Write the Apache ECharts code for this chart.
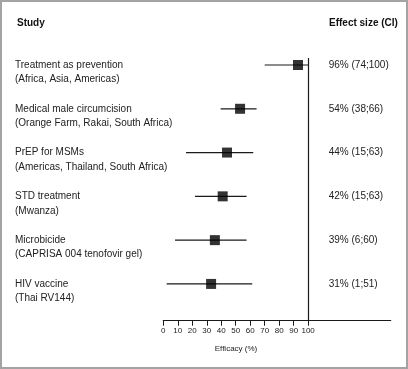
<!DOCTYPE html>
<html>
<head>
<meta charset="utf-8">
<script src="https://cdn.jsdelivr.net/npm/echarts@6/dist/echarts.min.js"></script>
<style>
html,body{margin:0;padding:0;background:#fff;}
#chart{width:408px;height:369px;}
</style>
</head>
<body>
<div id="chart"></div>
<script>
// ---- data ----
var studies = ['Treatment as prevention', 'Medical male circumcision', 'PrEP for MSMs', 'STD treatment', 'Microbicide', 'HIV vaccine'];
var settings = ['(Africa, Asia, Americas)', '(Orange Farm, Rakai, South Africa)', '(Americas, Thailand, South Africa)', '(Mwanza)', '(CAPRISA 004 tenofovir gel)', '(Thai RV144)'];
var effectLabels = ['96% (74;100)', '54% (38;66)', '44% (15;63)', '42% (15;63)', '39% (6;60)', '31% (1;51)'];
var pointValues = [93, 53, 44, 41, 35.6, 33];
var ciLow = [70, 39.6, 15.7, 21.9, 8.1, 2.3];
var ciHigh = [100, 64.4, 62.1, 57.5, 57.5, 61.4];
var xTicks = [0, 10, 20, 30, 40, 50, 60, 70, 80, 90, 100];
var refValue = 100;

var rows = studies.map(function (s, i) { return i; });
var FONT = '"Liberation Sans", Arial, sans-serif';

var chart = echarts.init(document.getElementById('chart'));
chart.setOption({
  animation: false,
  backgroundColor: '#fff',
  grid: { left: 163.3, right: 17.3, top: 43.1, bottom: 48.3 },
  xAxis: {
    type: 'value', min: 0, max: 157,
    splitLine: { show: false },
    axisLine: { onZero: false, lineStyle: { color: '#1a1a1a', width: 1.2 } },
    axisTick: { show: true, length: 5, inside: false, customValues: xTicks, lineStyle: { color: '#1a1a1a', width: 1 } },
    axisLabel: { customValues: xTicks, fontFamily: FONT, fontSize: 8, color: '#222', margin: 6 }
  },
  yAxis: [{
    type: 'value', min: -0.5, max: 5.84, inverse: true,
    splitLine: { show: false }, axisLine: { show: false, onZero: false }, axisTick: { show: false },
    axisLabel: {
      customValues: rows, align: 'left', margin: 148.3,
      fontFamily: FONT, fontSize: 10, color: '#222', lineHeight: 14.5,
      rich: { t: { fontFamily: FONT, fontSize: 10, color: '#222', lineHeight: 14.5 } },
      formatter: function (v) { var i = Math.round(v); return '{t| }\n{t|' + studies[i] + '}\n{t|' + settings[i] + '}'; }
    }
  }, {
    type: 'value', min: -0.5, max: 5.84, inverse: true, position: 'right',
    splitLine: { show: false }, axisLine: { show: false, onZero: false }, axisTick: { show: false },
    axisLabel: {
      customValues: rows, inside: true, align: 'left', margin: 62,
      fontFamily: FONT, fontSize: 10, color: '#222',
      formatter: function (v) { return effectLabels[Math.round(v)]; }
    }
  }],
  series: [{
    type: 'custom',
    data: rows.map(function (i) { return [ciLow[i], ciHigh[i], i]; }),
    renderItem: function (params, api) {
      var p1 = api.coord([api.value(0), api.value(2)]);
      var p2 = api.coord([api.value(1), api.value(2)]);
      return { type: 'line', shape: { x1: p1[0], y1: p1[1], x2: p2[0], y2: p2[1] }, style: { stroke: '#1a1a1a', lineWidth: 1.2 } };
    },
    encode: { x: [0, 1], y: 2 },
    silent: true, z: 2,
    markLine: {
      silent: true, symbol: 'none', label: { show: false },
      lineStyle: { color: '#1a1a1a', width: 1.2, type: 'solid' },
      data: [[{ coord: [refValue, -0.16] }, { coord: [refValue, 5.84] }]]
    }
  }, {
    type: 'scatter',
    symbol: 'rect', symbolSize: 10,
    itemStyle: { color: '#000' },
    data: rows.map(function (i) { return [pointValues[i], i]; }),
    silent: true, z: 3
  }],
  graphic: [
    { type: 'rect', shape: { x: 1, y: 1, width: 406, height: 367 }, style: { fill: 'none', stroke: '#a3a3a3', lineWidth: 2 }, silent: true },
    { type: 'text', x: 17, y: 23, style: { text: 'Study', font: 'bold 10px ' + FONT, fill: '#111', verticalAlign: 'middle' } },
    { type: 'text', x: 329, y: 23, style: { text: 'Effect size (CI)', font: 'bold 10px ' + FONT, fill: '#111', verticalAlign: 'middle' } },
    { type: 'text', x: 236, y: 349, style: { text: 'Efficacy (%)', font: '8px ' + FONT, fill: '#222', align: 'center', verticalAlign: 'middle' } }
  ]
});
</script>
</body>
</html>
